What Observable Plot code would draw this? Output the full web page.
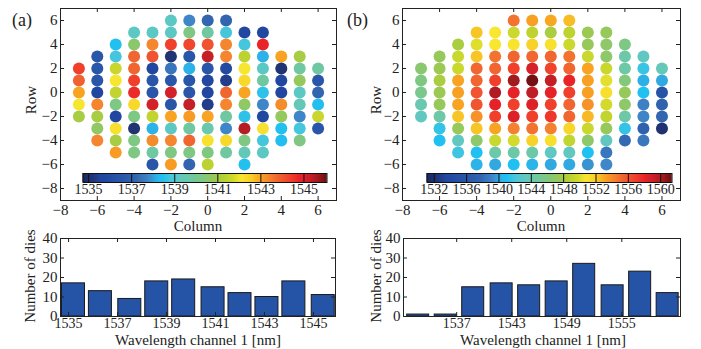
<!DOCTYPE html>
<html><head><meta charset="utf-8">
<script src="https://cdn.jsdelivr.net/npm/d3@7"></script>
<script src="https://cdn.jsdelivr.net/npm/@observablehq/plot@0.6"></script>
<style>
body{margin:0;background:#fff;}
#root{position:relative;width:701px;height:349px;overflow:hidden;background:#fff;font-family:"Liberation Serif",serif;color:#222;}
#root > *{position:absolute;}
.t{font-size:15px;line-height:1;white-space:nowrap;transform:translate(-50%,-50%);}
.r{transform:translate(-50%,-50%) rotate(-90deg);}
.p{font-size:18px;line-height:1;}
</style></head><body><div id="root"></div>
<script>
// ---------- data ----------
const rowTicks = [-8, -6, -4, -2, 0, 2, 4, 6];
const colTicks = [-8, -6, -4, -2, 0, 2, 4, 6];
const countTicks = [0, 10, 20, 30, 40];

const rangeA = [1534.74, 1546.07];
const rangeB = [1531.1, 1561.4];
const colorbarTicksA = [1535, 1537, 1539, 1541, 1543, 1545];
const colorbarTicksB = [1532, 1536, 1540, 1544, 1548, 1552, 1556, 1560];

const rowsA = [6, 5, 4, 3, 2, 1, 0, -1, -2, -3, -4, -5, -6];
const firstColA = [-2, -4, -5, -6, -7, -7, -7, -7, -7, -6, -6, -5, -3];
const nmA = [
  [1539.2, 1537.8, 1537.2, 1537.2],
  [1539.2, 1539.2, 1539.2, 1540.3, 1539.8, 1538.8, 1535.7, 1535.7],
  [1538.5, 1540.6, 1543.4, 1544.4, 1544.3, 1544.1, 1543.4, 1538.8, 1544.8],
  [1536.5, 1538.8, 1543.8, 1544.1, 1535.1, 1536.5, 1545.3, 1543.4, 1541.4, 1538.2, 1543.0, 1541.1],
  [1544.4, 1536.5, 1541.6, 1543.8, 1535.7, 1537.5, 1538.2, 1536.5, 1535.8, 1542.1, 1539.2, 1535.1, 1539.8, 1539.8],
  [1543.9, 1536.5, 1542.1, 1544.4, 1536.5, 1536.5, 1536.5, 1535.7, 1535.4, 1542.4, 1539.8, 1535.7, 1540.8, 1536.5],
  [1543.0, 1535.7, 1541.5, 1544.7, 1536.5, 1545.1, 1536.5, 1535.7, 1543.8, 1543.0, 1538.6, 1535.7, 1539.2, 1537.2],
  [1542.1, 1543.4, 1540.3, 1542.4, 1545.1, 1536.5, 1545.3, 1535.4, 1543.4, 1540.7, 1537.8, 1543.3, 1539.4, 1538.4],
  [1541.1, 1541.1, 1535.7, 1540.3, 1541.5, 1543.0, 1543.1, 1543.0, 1539.8, 1538.6, 1535.7, 1540.8, 1537.8, 1541.6],
  [1540.7, 1542.2, 1535.1, 1538.2, 1539.2, 1539.8, 1539.6, 1537.8, 1545.5, 1542.2, 1538.5, 1538.8, 1536.5],
  [1543.4, 1541.1, 1540.3, 1543.3, 1543.4, 1543.8, 1542.2, 1542.4, 1540.3, 1538.8, 1538.4, 1540.3],
  [1543.1, 1540.3, 1539.8, 1540.3, 1540.3, 1540.3, 1539.8, 1539.4, 1539.2],
  [1536.5, 1543.1, 1537.2, 1541.4, null, 1538.5]
];

const rowsB = [6, 5, 4, 3, 2, 1, 0, -1, -2, -3, -4, -5, -6];
const firstColB = [-2, -4, -5, -6, -7, -7, -7, -7, -7, -6, -6, -5, -4];
const nmB = [
  [1554.9, 1553.3, 1553.1, 1552.5],
  [1552.3, 1550.8, 1549.6, 1549.0, 1548.2, 1549.0, 1547.6, 1547.4],
  [1548.2, 1550.2, 1550.8, 1550.9, 1551.9, 1551.1, 1549.6, 1547.4, 1546.9, 1545.9],
  [1547.4, 1549.5, 1552.3, 1554.9, 1555.4, 1555.3, 1555.4, 1554.9, 1549.5, 1546.9, 1544.4, 1543.2],
  [1546.7, 1547.6, 1549.6, 1555.3, 1555.4, 1556.9, 1558.7, 1556.8, 1555.4, 1553.2, 1549.5, 1544.4, 1541.7, 1543.6],
  [1546.0, 1548.2, 1553.2, 1555.4, 1556.9, 1560.3, 1561.2, 1559.4, 1558.0, 1553.3, 1550.3, 1546.3, 1540.3, 1540.1],
  [1545.6, 1547.6, 1553.3, 1556.1, 1560.0, 1558.2, 1559.6, 1558.2, 1556.9, 1553.3, 1551.2, 1547.4, 1541.1, 1535.5],
  [1544.0, 1547.4, 1553.2, 1556.1, 1558.2, 1556.9, 1558.5, 1556.9, 1555.4, 1553.8, 1549.9, 1546.9, 1539.0, 1537.2],
  [1543.2, 1544.4, 1552.3, 1553.8, 1556.9, 1558.5, 1556.9, 1557.3, 1555.4, 1552.6, 1549.2, 1544.4, 1539.2, 1537.8],
  [1541.5, 1547.4, 1552.3, 1553.2, 1554.4, 1554.9, 1554.4, 1551.7, 1549.5, 1547.4, 1541.5, 1537.2, 1532.0],
  [1541.1, 1543.2, 1546.9, 1549.5, 1549.9, 1551.9, 1551.2, 1549.2, 1546.9, 1543.2, 1538.0, 1538.6],
  [1541.8, 1541.1, 1544.4, 1544.4, 1544.3, 1543.2, 1543.2, 1541.1, 1538.6],
  [1540.4, 1540.1, 1541.1, 1540.4, 1540.1, 1540.1, 1539.6, 1539.3]
];

const histCentersA = [1535.2, 1536.3, 1537.5, 1538.6, 1539.7, 1540.9, 1542.0, 1543.1, 1544.2, 1545.4];
const histCountsA = [17, 13, 9, 18, 19, 15, 12, 10, 18, 11];
const histTicksA = [1535, 1537, 1539, 1541, 1543, 1545];
const histCentersB = [1532.8, 1535.8, 1538.8, 1541.9, 1544.9, 1547.9, 1550.9, 1554.0, 1557.0, 1560.0];
const histCountsB = [1, 1, 15, 17, 16, 18, 27, 16, 23, 12];
const histTicksB = [1537, 1543, 1549, 1555];

const paletteStops = [0, 0.03, 0.08, 0.16, 0.22, 0.27, 0.31, 0.33, 0.36, 0.40, 0.45, 0.50, 0.54, 0.58, 0.62, 0.65, 0.69, 0.73, 0.77, 0.80, 0.83, 0.86, 0.89, 0.93, 0.96, 1];
const paletteColors = ["#1c2860", "#203270", "#2146a0", "#2a57a8", "#3265b0", "#3f86c8", "#2ab8ec", "#20c0f0", "#48c6dc", "#60c8c0", "#70c8a0", "#82c87c", "#98c858", "#b6d032", "#d2da2c", "#f8e630", "#f8d028", "#f8a222", "#f48030", "#f06630", "#f05030", "#f03a2a", "#e82228", "#c82028", "#a81c20", "#6a1010"];

// ---------- helpers ----------
const pal = d3.scaleLinear().domain(paletteStops).range(paletteColors).interpolate(d3.interpolateRgb).clamp(true);
const jet = t => pal(t);
const FONT = "'Liberation Serif', serif";
const INK = "#222";

function dies(rows, firstCols, nm) {
  const out = [];
  rows.forEach((r, i) => nm[i].forEach((v, j) => { if (v != null) out.push({row: r, col: firstCols[i] + j, nm: v}); }));
  return out;
}

function wafer(data, domain, marginLeft, marginRight, width) {
  const height = 235, mt = 8, mb = 35;
  const iw = width - marginLeft - marginRight, ih = height - mt - mb;
  return Plot.plot({
    width, height, marginLeft, marginRight, marginTop: mt, marginBottom: mb,
    style: {fontFamily: FONT, fontSize: "15px", color: INK, background: "transparent", overflow: "visible"},
    x: {domain: [-8, 7]},
    y: {domain: [-9, 7]},
    color: {type: "linear", domain, interpolate: jet, clamp: true},
    marks: [
      Plot.dot(data, {x: "col", y: "row", fill: "nm", r: 6}),
      Plot.frame({stroke: INK}),
      Plot.tickX(colTicks, {x: d => d, insetTop: ih - 4, stroke: INK}),
      Plot.tickX(colTicks, {x: d => d, insetBottom: ih - 4, stroke: INK}),
      Plot.tickY(rowTicks, {y: d => d, insetRight: iw - 4, stroke: INK}),
      Plot.tickY(rowTicks, {y: d => d, insetLeft: iw - 4, stroke: INK}),
      Plot.axisX(colTicks, {tickSize: 0, tickPadding: 4, label: null}),
      Plot.axisY(rowTicks, {tickSize: 0, tickPadding: 3, label: null})
    ]
  });
}

function colorbar(domain, ticks, width) {
  const [lo, hi] = domain, n = 250, step = (hi - lo) / n;
  const samples = d3.range(n).map(i => lo + i * step);
  return Plot.plot({
    width, height: 28, marginLeft: 0.5, marginRight: 0.5, marginTop: 1, marginBottom: 18,
    style: {fontFamily: FONT, fontSize: "14px", color: INK, background: "transparent", overflow: "visible"},
    x: {domain},
    y: {domain: [0, 1], axis: null},
    color: {type: "linear", domain, interpolate: jet, clamp: true},
    marks: [
      Plot.rect(samples, {x1: d => d, x2: d => Math.min(hi, d + step * 1.8), y1: 0, y2: 1, fill: d => d + step / 2}),
      Plot.ruleX(ticks, {stroke: "#111"}),
      Plot.frame({stroke: "#111"}),
      Plot.axisX(ticks, {tickSize: 0, tickPadding: 2, tickFormat: "d", label: null})
    ]
  });
}

function histogram(centers, counts, half, domain, ticks, marginLeft, width) {
  const height = 106, mt = 8, mb = 20, mr = 5;
  const iw = width - marginLeft - mr, ih = height - mt - mb;
  const data = centers.map((c, i) => ({c, n: counts[i]}));
  return Plot.plot({
    width, height, marginLeft, marginRight: mr, marginTop: mt, marginBottom: mb,
    style: {fontFamily: FONT, fontSize: "15px", color: INK, background: "transparent", overflow: "visible"},
    x: {domain},
    y: {domain: [0, 40]},
    marks: [
      Plot.rect(data, {x1: d => d.c - half, x2: d => d.c + half, y1: 0, y2: "n", fill: "#2553a5", stroke: "#1a1a1a", strokeWidth: 1}),
      Plot.frame({stroke: INK}),
      Plot.tickX(ticks, {x: d => d, insetTop: ih - 4, stroke: INK}),
      Plot.tickX(ticks, {x: d => d, insetBottom: ih - 4, stroke: INK}),
      Plot.tickY(countTicks, {y: d => d, insetRight: iw - 4, stroke: INK}),
      Plot.tickY(countTicks, {y: d => d, insetLeft: iw - 4, stroke: INK}),
      Plot.axisX(ticks, {tickSize: 0, tickPadding: 2, tickFormat: "d", label: null, fontSize: 14}),
      Plot.axisY(countTicks, {tickSize: 0, tickPadding: 3, label: null})
    ]
  });
}

// ---------- layout ----------
const root = document.getElementById("root");
function place(el, left, top) { el.style.left = left + "px"; el.style.top = top + "px"; root.appendChild(el); return el; }
function label(text, x, y, cls) { const d = document.createElement("div"); d.className = cls; d.textContent = text; return place(d, x, y); }

place(wafer(dies(rowsA, firstColA, nmA), rangeA, 60, 9, 345), 0, 0);
place(wafer(dies(rowsB, firstColB, nmB), rangeB, 57, 10, 345), 345, 0);
place(colorbar(rangeA, colorbarTicksA, 245), 82, 172);
place(colorbar(rangeB, colorbarTicksB, 246), 426, 172);
place(histogram(histCentersA, histCountsA, 0.47, [1534.67, 1545.9], histTicksA, 60, 340), 0, 230);
place(histogram(histCentersB, histCountsB, 1.2, [1531.2, 1561.4], histTicksB, 58, 340), 345, 230);

label("(a)", 12, 11, "p");
label("(b)", 347, 11, "p");
label("Column", 198, 226, "t");
label("Column", 541, 226, "t");
label("Row", 31, 100, "t r");
label("Row", 376, 100, "t r");
label("Number of dies", 30, 276, "t r");
label("Number of dies", 376, 276, "t r");
label("Wavelength channel 1 [nm]", 198, 340, "t");
label("Wavelength channel 1 [nm]", 543, 340, "t");
</script>
</body></html>
